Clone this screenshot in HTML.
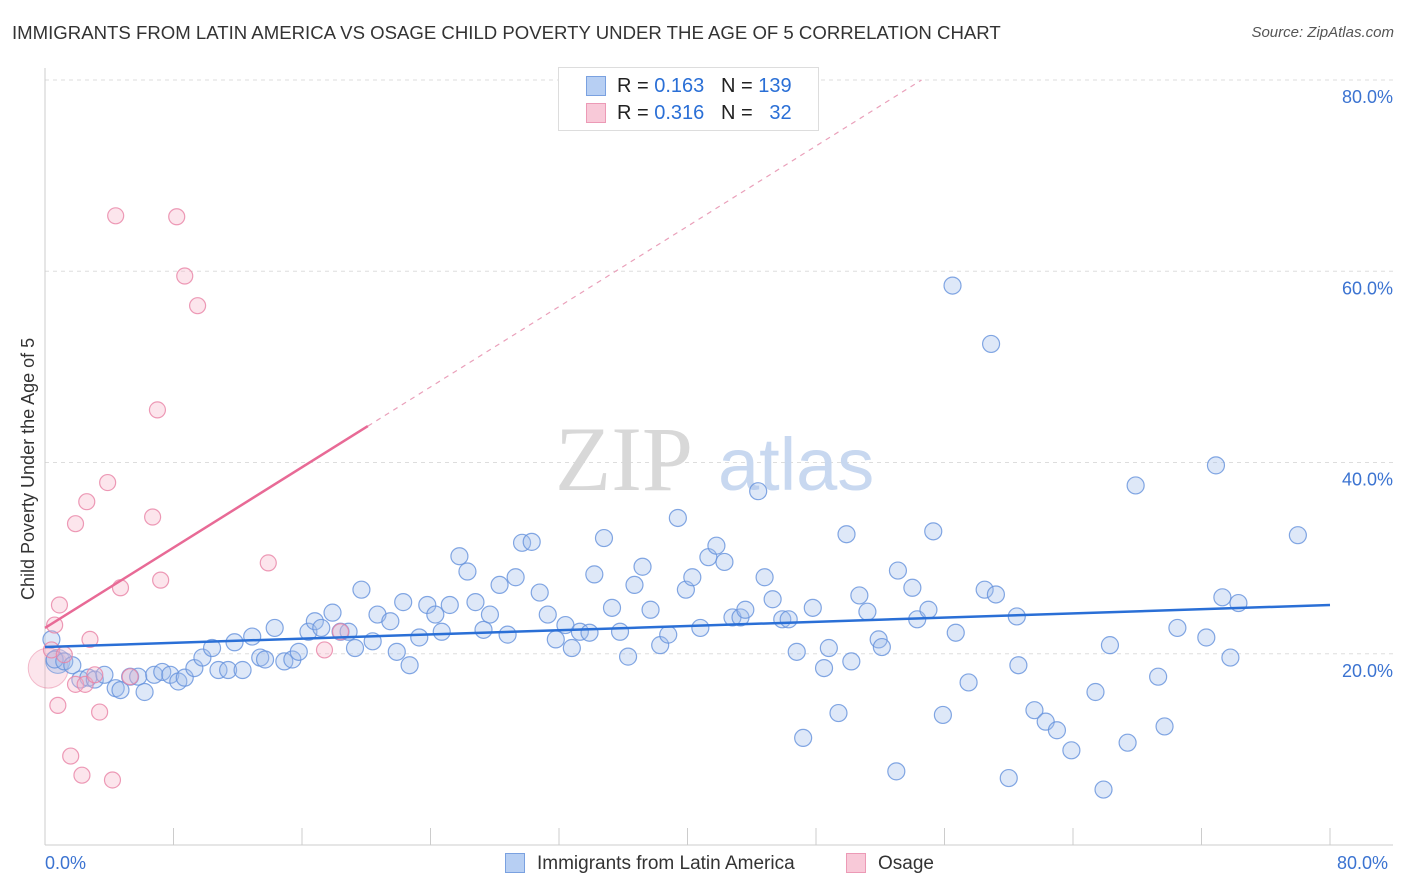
<!DOCTYPE html>
<html><head><meta charset="utf-8">
<style>
body{margin:0;background:#fff;font-family:"Liberation Sans",sans-serif;}
#wrap{position:relative;width:1406px;height:892px;overflow:hidden;}
.t{position:absolute;white-space:nowrap;}
</style></head>
<body>
<div id="wrap">
<div class="t" style="left:12px;top:22px;font-size:18.6px;color:#333;">IMMIGRANTS FROM LATIN AMERICA VS OSAGE CHILD POVERTY UNDER THE AGE OF 5 CORRELATION CHART</div>
<div class="t" style="right:12px;top:24px;font-size:15px;color:#555;font-style:italic;">Source: ZipAtlas.com</div>
<svg id="svg" width="1406" height="892" style="position:absolute;left:0;top:0"></svg>
</div>
<script>
const blueX=[0.4,0.6,1.2,1.7,2.2,2.7,3.1,3.7,4.4,4.7,5.3,5.8,6.2,6.8,7.3,7.8,8.3,8.7,9.3,9.8,10.4,10.8,11.4,11.8,12.3,12.9,13.4,13.7,14.3,14.9,15.4,15.8,16.4,16.8,17.2,17.9,18.4,18.9,19.3,19.7,20.4,20.7,21.5,21.9,22.3,22.7,23.3,23.8,24.3,24.7,25.2,25.8,26.3,26.8,27.3,27.7,28.3,28.8,29.3,29.7,30.3,30.8,31.3,31.8,32.4,32.8,33.3,33.9,34.2,34.8,35.3,35.8,36.3,36.7,37.2,37.7,38.3,38.8,39.4,39.9,40.3,40.8,41.3,41.8,42.3,42.8,43.3,43.6,44.4,44.8,45.3,45.9,46.3,46.8,47.2,47.8,48.5,48.8,49.4,49.9,50.2,50.7,51.2,51.9,52.1,53.0,53.1,54.0,54.3,55.0,55.3,55.9,56.5,56.7,57.5,58.5,58.9,59.2,60.0,60.6,60.5,61.6,62.3,63.0,63.9,65.4,65.9,66.3,67.4,67.9,69.3,69.7,70.5,72.3,72.9,73.3,73.8,74.3,78.0];
const blueY=[21.5,19.4,19.2,18.8,17.3,17.5,17.3,17.8,16.4,16.2,17.6,17.6,16.0,17.8,18.1,17.8,17.1,17.5,18.5,19.6,20.6,18.3,18.3,21.2,18.3,21.8,19.6,19.4,22.7,19.2,19.4,20.2,22.3,23.4,22.7,24.3,22.3,22.3,20.6,26.7,21.3,24.1,23.4,20.2,25.4,18.8,21.7,25.1,24.1,22.3,25.1,30.2,28.6,25.4,22.5,24.1,27.2,22.0,28.0,31.6,31.7,26.4,24.1,21.5,23.0,20.6,22.3,22.2,28.3,32.1,24.8,22.3,19.7,27.2,29.1,24.6,20.9,22.0,34.2,26.7,28.0,22.7,30.1,31.3,29.6,23.8,23.8,24.6,37.0,28.0,25.7,23.6,23.6,20.2,11.2,24.8,18.5,20.6,13.8,32.5,19.2,26.1,24.4,21.5,20.7,7.7,28.7,26.9,23.6,24.6,32.8,13.6,58.5,22.2,17.0,26.7,52.4,26.2,7.0,18.8,23.9,14.1,12.9,12.0,9.9,16.0,5.8,20.9,10.7,37.6,17.6,12.4,22.7,21.7,39.7,25.9,19.6,25.3,32.4];
const pinkX=[0.4,0.6,0.9,0.8,1.2,1.6,1.9,1.9,2.3,2.5,2.6,2.8,3.1,3.4,3.9,4.2,4.4,4.7,5.3,6.7,7.0,7.2,8.2,8.7,9.5,13.9,17.4,18.4];
const pinkY=[20.4,23.0,25.1,14.6,19.9,9.3,33.6,16.8,7.3,16.8,35.9,21.5,17.8,13.9,37.9,6.8,65.8,26.9,17.6,34.3,45.5,27.7,65.7,59.5,56.4,29.5,20.4,22.3];
const blueTrend=[20.7,25.1]; // y at x=0 and x=80
const pinkTrend=[22.7,1.05]; // intercept, slope
const yTicks=[20,40,60,80];
const yTickLabels=["20.0%","40.0%","60.0%","80.0%"];

const X0=45,X1=1330,Y0=845,Y80=80;
const sx=v=>X0+v*(X1-X0)/80;
const sy=v=>Y0-v*(Y0-Y80)/80;
const svg=document.getElementById('svg');
const NS='http://www.w3.org/2000/svg';
function mk(tag,attrs){const e=document.createElementNS(NS,tag);for(const k in attrs)e.setAttribute(k,attrs[k]);svg.appendChild(e);return e;}

yTicks.forEach((t,i)=>{
  const g=mk('line',{x1:X0,x2:1393,y1:sy(t),y2:sy(t),stroke:'#ddd','stroke-dasharray':'4,4'});
  
  
  const tx=mk('text',{x:1393,y:sy(t)+23,'text-anchor':'end','font-size':18,fill:'#3b73d1','font-family':'Liberation Sans, sans-serif'});
  tx.textContent=yTickLabels[i];
  
  
});
let ax=mk('line',{x1:X0,x2:X0,y1:68,y2:Y0,stroke:'#ccc'});


ax=mk('line',{x1:X0,x2:1393,y1:Y0,y2:Y0,stroke:'#ccc'});


for(let i=0;i<=10;i++){
  const x=sx(i*8);
  const tk=mk('line',{x1:x,x2:x,y1:Y0,y2:828,stroke:'#ccc'});
  
  
}
let wm=mk('text',{x:555,y:490,'font-size':92,fill:'#d8d8d8','font-family':'Liberation Serif, serif'});
wm.textContent='ZIP';


wm=mk('text',{x:718,y:490,'font-size':74,fill:'#c8d8f0','font-family':'Liberation Sans, sans-serif'});
wm.textContent='atlas';



let bc=mk('circle',{cx:sx(0.2),cy:sy(18.5),r:20,fill:'rgba(244,168,192,0.3)',stroke:'rgba(232,130,160,0.5)'});


bc=mk('circle',{cx:sx(0.8),cy:sy(19.2),r:12,fill:'rgba(160,190,235,0.4)',stroke:'rgba(110,150,220,0.7)'});



blueX.forEach((v,i)=>{
  const c=mk('circle',{cx:sx(v),cy:sy(blueY[i]),r:8.5,fill:'rgba(160,190,235,0.35)',stroke:'rgba(100,145,220,0.8)','stroke-width':1.2});
  
  
});
pinkX.forEach((v,i)=>{
  const c=mk('circle',{cx:sx(v),cy:sy(pinkY[i]),r:8,fill:'rgba(246,180,200,0.35)',stroke:'rgba(232,130,165,0.8)','stroke-width':1.2});
  
  
});
let tl=mk('line',{x1:sx(0),y1:sy(blueTrend[0]),x2:sx(80),y2:sy(blueTrend[1]),stroke:'#2a6fd6','stroke-width':2.5});


const pEnd=20.1, pMax=(80-pinkTrend[0])/pinkTrend[1];
tl=mk('line',{x1:sx(0),y1:sy(pinkTrend[0]),x2:sx(pEnd),y2:sy(pinkTrend[0]+pinkTrend[1]*pEnd),stroke:'#e86a96','stroke-width':2.5});


tl=mk('line',{x1:sx(pEnd),y1:sy(pinkTrend[0]+pinkTrend[1]*pEnd),x2:sx(pMax),y2:sy(80),stroke:'#eaa0ba','stroke-width':1.2,'stroke-dasharray':'5,5'});


</script>
<div class="t" style="left:558px;top:67px;width:259px;height:62px;border:1px solid #ddd;background:#fff;">
  <div class="t" style="left:27px;top:8px;width:20px;height:20px;background:#b7cff3;border:1px solid #7aa1e0;box-sizing:border-box;"></div>
  <div class="t" style="left:58px;top:7px;font-size:20px;color:#222;">R = <span style="color:#2a6fd6">0.163</span>&nbsp;&nbsp;&nbsp;N = <span style="color:#2a6fd6">139</span></div>
  <div class="t" style="left:27px;top:35px;width:20px;height:20px;background:#f8c9d8;border:1px solid #ec9ab6;box-sizing:border-box;"></div>
  <div class="t" style="left:58px;top:34px;font-size:20px;color:#222;">R = <span style="color:#2a6fd6">0.316</span>&nbsp;&nbsp;&nbsp;N = &nbsp;&nbsp;<span style="color:#2a6fd6">32</span></div>
</div>
<div class="t" style="left:18px;top:600px;transform:rotate(-90deg);transform-origin:0 0;font-size:18px;color:#333;">Child Poverty Under the Age of 5</div>
<div class="t" style="left:45px;top:853px;font-size:18px;color:#3b73d1;">0.0%</div>
<div class="t" style="left:1337px;top:853px;font-size:18px;color:#3b73d1;">80.0%</div>
<div class="t" style="left:505px;top:853px;width:20px;height:20px;background:#b7cff3;border:1px solid #7aa1e0;box-sizing:border-box;"></div>
<div class="t" style="left:537px;top:853px;font-size:19px;color:#333;">Immigrants from Latin America</div>
<div class="t" style="left:846px;top:853px;width:20px;height:20px;background:#f8c9d8;border:1px solid #ec9ab6;box-sizing:border-box;"></div>
<div class="t" style="left:878px;top:853px;font-size:19px;color:#333;">Osage</div>
</body></html>
